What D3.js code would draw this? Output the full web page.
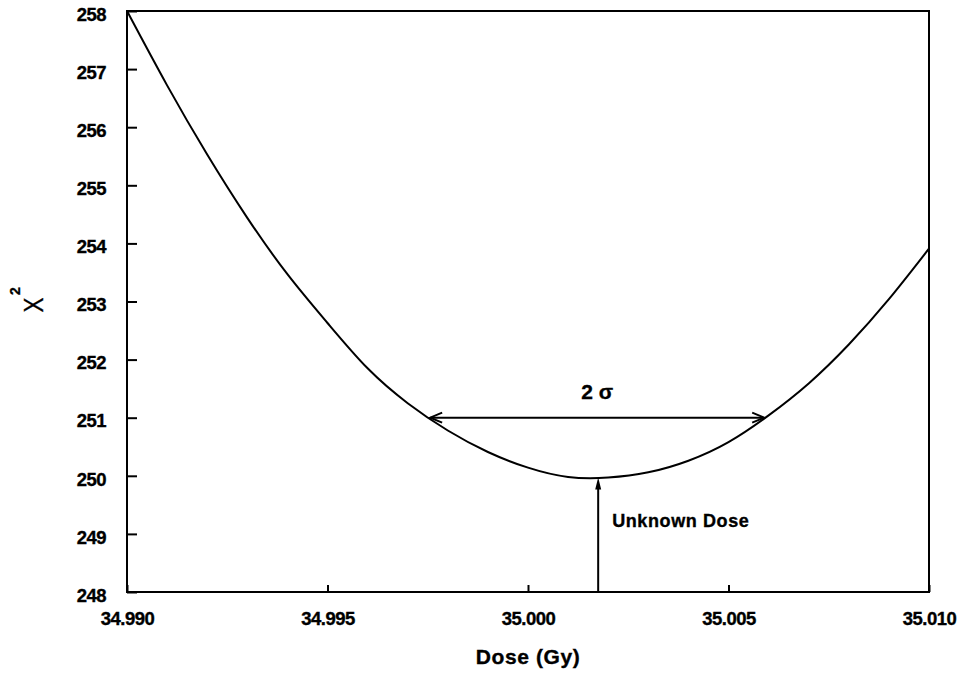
<!DOCTYPE html>
<html>
<head>
<meta charset="utf-8">
<script src="https://cdn.jsdelivr.net/npm/d3@7"></script>
<style>
  html, body { margin: 0; padding: 0; background: #fff; }
  svg { display: block; }
  text { font-family: "Liberation Sans", Arial, Helvetica, sans-serif; fill: #000; }
  .heavy { stroke: #000; stroke-width: 0.35px; }
</style>
</head>
<body>
<svg id="chart" width="958" height="673"></svg>
<script>
// Chi-square of the fit versus trial dose
const dose = [34.990, 34.991, 34.992, 34.993, 34.994, 34.995, 34.996, 34.997, 34.998, 34.999,
              35.000, 35.001, 35.002, 35.003, 35.004, 35.005, 35.006, 35.007, 35.008, 35.009, 35.010];
const chi2 = [258.00, 256.72, 255.53, 254.44, 253.47, 252.63, 251.85, 251.25, 250.78, 250.41,
              250.14, 249.98, 249.97, 250.06, 250.26, 250.58, 251.04, 251.59, 252.26, 253.04, 253.91];

// Axis ticks
const xTicks = [34.990, 34.995, 35.000, 35.005, 35.010];
const xTickLabels = ["34.990", "34.995", "35.000", "35.005", "35.010"];
const yTicks = [248, 249, 250, 251, 252, 253, 254, 255, 256, 257, 258];

// Annotations: 2-sigma interval at the chi2 = min + 1 level, and the fitted dose
const sigmaInterval = [34.99756, 35.00589];
const sigmaLevel = 251;
const unknownDose = 35.00175;
const chi2Min = 249.97;

const svg = d3.select("#chart");
const plotLeft = 127, plotRight = 929, plotTop = 11, plotBottom = 592;

const x = d3.scaleLinear().domain([34.990, 35.010]).range([plotLeft, plotRight]);
const y = d3.scaleLinear().domain([248, 258]).range([plotBottom, plotTop]);

// Frame
svg.append("rect")
  .attr("x", plotLeft).attr("y", plotTop)
  .attr("width", plotRight - plotLeft).attr("height", plotBottom - plotTop)
  .attr("fill", "none").attr("stroke", "#000").attr("stroke-width", 2);

// Bottom axis: inward ticks
const xAxis = d3.axisBottom(x).tickValues(xTicks)
  .tickSizeInner(-7).tickSizeOuter(0)
  .tickFormat((d, i) => xTickLabels[i]);
const gx = svg.append("g").attr("transform", `translate(0,${plotBottom})`).call(xAxis);
gx.select(".domain").remove();
gx.selectAll(".tick line").attr("stroke", "#000").attr("stroke-width", 2);
gx.selectAll(".tick text")
  .attr("class", "heavy")
  .attr("y", 33).attr("dy", null)
  .style("font-size", "18.5px").style("font-weight", "bold")
  .style("letter-spacing", "-0.5px");

// Left axis: inward ticks
const yAxis = d3.axisLeft(y).tickValues(yTicks)
  .tickSizeInner(-10).tickSizeOuter(0)
  .tickFormat(d3.format("d"));
const gy = svg.append("g").attr("transform", `translate(${plotLeft},0)`).call(yAxis);
gy.select(".domain").remove();
gy.selectAll(".tick line").attr("stroke", "#000").attr("stroke-width", 2);
gy.selectAll(".tick text")
  .attr("class", "heavy")
  .attr("x", -21).attr("dy", "0.5em")
  .style("font-size", "18.5px").style("font-weight", "bold")
  .style("letter-spacing", "-0.5px");

// Curve
const line = d3.line().x((d, i) => x(dose[i])).y(d => y(d)).curve(d3.curveNatural);
svg.append("path")
  .datum(chi2)
  .attr("d", line)
  .attr("fill", "none").attr("stroke", "#000").attr("stroke-width", 2);

// 2-sigma double arrow
const ys = y(sigmaLevel);
const xa = x(sigmaInterval[0]), xb = x(sigmaInterval[1]);
svg.append("line")
  .attr("x1", xa).attr("x2", xb).attr("y1", ys).attr("y2", ys)
  .attr("stroke", "#000").attr("stroke-width", 2);
svg.append("path")
  .attr("d", `M${xa + 12},${ys - 5} L${xa},${ys} L${xa + 12},${ys + 5}`)
  .attr("fill", "none").attr("stroke", "#000").attr("stroke-width", 2);
svg.append("path")
  .attr("d", `M${xb - 12},${ys - 5} L${xb},${ys} L${xb - 12},${ys + 5}`)
  .attr("fill", "none").attr("stroke", "#000").attr("stroke-width", 2);

const sigmaLabel = svg.append("text")
  .attr("class", "heavy")
  .attr("x", (xa + xb) / 2).attr("y", ys - 19)
  .attr("text-anchor", "middle")
  .style("font-size", "21px").style("font-weight", "bold");
sigmaLabel.append("tspan").text("2");
sigmaLabel.append("tspan").text(" σ");

// Unknown dose arrow from the axis up to the minimum
const xu = x(unknownDose), yMin = y(chi2Min);
svg.append("line")
  .attr("x1", xu).attr("x2", xu).attr("y1", plotBottom).attr("y2", yMin + 10)
  .attr("stroke", "#000").attr("stroke-width", 2);
svg.append("path")
  .attr("d", `M${xu},${yMin} L${xu - 3},${yMin + 12} L${xu + 3},${yMin + 12} Z`)
  .attr("fill", "#000");

svg.append("text")
  .attr("class", "heavy")
  .attr("x", xu + 14).attr("y", 527)
  .style("font-size", "18px").style("font-weight", "bold")
  .style("letter-spacing", "0.6px")
  .text("Unknown Dose");

// Axis titles
svg.append("text")
  .attr("class", "heavy")
  .attr("x", (plotLeft + plotRight) / 2).attr("y", 664)
  .attr("text-anchor", "middle")
  .style("font-size", "21px").style("font-weight", "bold")
  .style("letter-spacing", "0.6px")
  .text("Dose (Gy)");

svg.append("text")
  .attr("class", "heavy")
  .attr("transform", "translate(43,305) rotate(-90) scale(0.8,1)")
  .attr("text-anchor", "middle")
  .style("font-size", "28px")
  .text("X");
svg.append("text")
  .attr("class", "heavy")
  .attr("transform", "translate(20,291) rotate(-90)")
  .attr("text-anchor", "middle")
  .style("font-size", "14px").style("font-weight", "bold")
  .text("2");
</script>
</body>
</html>
